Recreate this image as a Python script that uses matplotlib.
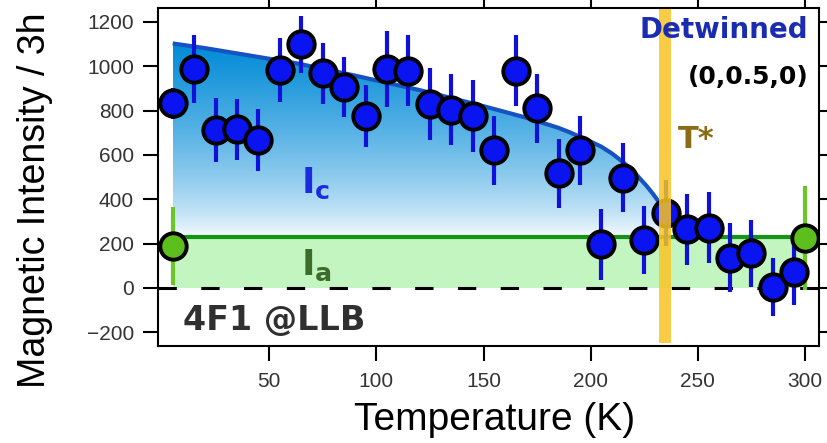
import numpy as np
import matplotlib
matplotlib.use("Agg")
import matplotlib.pyplot as plt

# blue points: I_c channel (detwinned, Q = (0,0.5,0))
temp_c = [5, 15, 25, 35, 45, 55, 65, 75, 85, 95, 105, 115, 125, 135, 145,
          155, 165, 175, 185, 195, 205, 215, 225, 235, 245, 255, 265, 275, 285, 295]
int_c = [833, 988, 713, 716, 668, 983, 1099, 968, 905, 777, 986, 980, 828, 803, 776,
         620, 979, 810, 517, 620, 197, 498, 217, 337, 265, 272, 137, 156, 3, 71]
err_c = [70, 152, 143, 138, 139, 143, 128, 137, 135, 139, 172, 161, 162, 160, 164,
         155, 160, 156, 156, 155, 161, 155, 152, 150, 160, 160, 157, 150, 130, 150]

# green points: I_a channel
temp_a = [5, 300]
int_a = [189, 227]
err_a = [175, 235]
level_a = 228

# fitted curve for I_c
fit_t = [5, 20, 40, 63, 90, 120, 150, 170, 185, 190, 200, 205, 210, 215, 219,
         223, 226, 229, 232]
fit_i = [1103, 1082, 1050, 1013, 958, 893, 820, 768, 722, 703, 660, 637, 606, 568, 535,
         493, 461, 425, 385]

t_star = (232, 237.5)

fig = plt.figure(figsize=(8.27, 4.43), dpi=100)
ax = fig.add_axes([0.1907, 0.219, 0.7996, 0.763])

# gradient fill under the fit curve
ys = np.linspace(0, 1120, 400)
f = np.clip((ys - level_a) / (1100 - level_a), 0, 1) ** 0.7
top = np.array([0, 138, 215]) / 255.0
grad = (1 - f)[:, None] + f[:, None] * top[None, :]
grad = grad[:, None, :]
poly = ax.fill_between(fit_t, 0, fit_i, facecolor='none', edgecolor='none')
img = ax.imshow(grad, origin='lower', aspect='auto',
                extent=[fit_t[0], fit_t[-1], 0, 1120], zorder=1)
img.set_clip_path(poly.get_paths()[0], transform=ax.transData)
ax.set_xlim(-2, 306.5)
ax.set_ylim(-262, 1263)

# I_a level
ax.fill_between([temp_a[0], temp_a[-1]], 0, level_a, color='#c2f5c0', zorder=1.5, lw=0)
ax.plot([temp_a[0], temp_a[-1]], [level_a, level_a], color='#169416', lw=3, zorder=2)
ax.axhline(0, color='black', lw=2.2, dashes=(6, 8), zorder=2.5)

ax.plot(fit_t, fit_i, color='#1552c4', lw=3, zorder=3, solid_capstyle='butt')

ax.errorbar(temp_c, int_c, yerr=err_c, fmt='none', ecolor='#1010d8', elinewidth=3, zorder=4)
ax.plot(temp_c, int_c, 'o', ms=19, mfc='#0a14f0', mec='black', mew=2.8, zorder=5)
ax.errorbar(temp_a, int_a, yerr=err_a, fmt='none', ecolor='#6cc62a', elinewidth=3, zorder=4)
ax.plot(temp_a, int_a, 'o', ms=19, mfc='#5dbf1e', mec='black', mew=2.8, zorder=5)

ax.axvspan(t_star[0], t_star[1], ymin=0.008, ymax=0.997, color='#f9c424', alpha=0.85,
           lw=0, zorder=6)

# annotations
ax.text(301.5, 1164, 'Detwinned', color='#1a2db0', fontsize=20, fontweight='bold',
        ha='right', va='center', zorder=7)
ax.text(301.5, 952, '(0,0.5,0)', color='black', fontsize=18, fontweight='bold',
        ha='right', va='center', zorder=7)
ax.text(240.5, 668, 'T*', color='#8b6b14', fontsize=22, fontweight='bold',
        ha='left', va='center', zorder=7)
ax.text(65, 473, r'$\mathbf{I}_{\mathbf{c}}$', color='#1a2be0', fontsize=26,
        ha='left', va='center', zorder=7)
ax.text(65, 104, r'$\mathbf{I}_{\mathbf{a}}$', color='#3d6b2a', fontsize=26,
        ha='left', va='center', zorder=7)
ax.text(10, -145, '4F1 @LLB', color='#303030', fontsize=24, fontweight='bold',
        ha='left', va='center', zorder=7)

# axes styling
ax.set_xticks([50, 100, 150, 200, 250, 300])
ax.set_yticks([-200, 0, 200, 400, 600, 800, 1000, 1200])
ax.tick_params(direction='out', length=11, width=1.5, top=True, right=True,
               labelsize=15, labelcolor='#333333')
ax.tick_params(axis='x', pad=8)
ax.tick_params(axis='y', pad=6)
for lab in ax.get_xticklabels() + ax.get_yticklabels():
    lab.set_family('Liberation Sans')
for s in ax.spines.values():
    s.set_linewidth(1.5)

ax.set_xlabel('Temperature (K)', fontsize=28, family='Liberation Sans')
ax.set_ylabel('Magnetic Intensity / 3h', fontsize=27, family='Liberation Sans')
ax.xaxis.set_label_coords(0.51, -0.165)
ax.yaxis.set_label_coords(-0.158, 0.43)

fig.savefig('out.png', dpi=100)
